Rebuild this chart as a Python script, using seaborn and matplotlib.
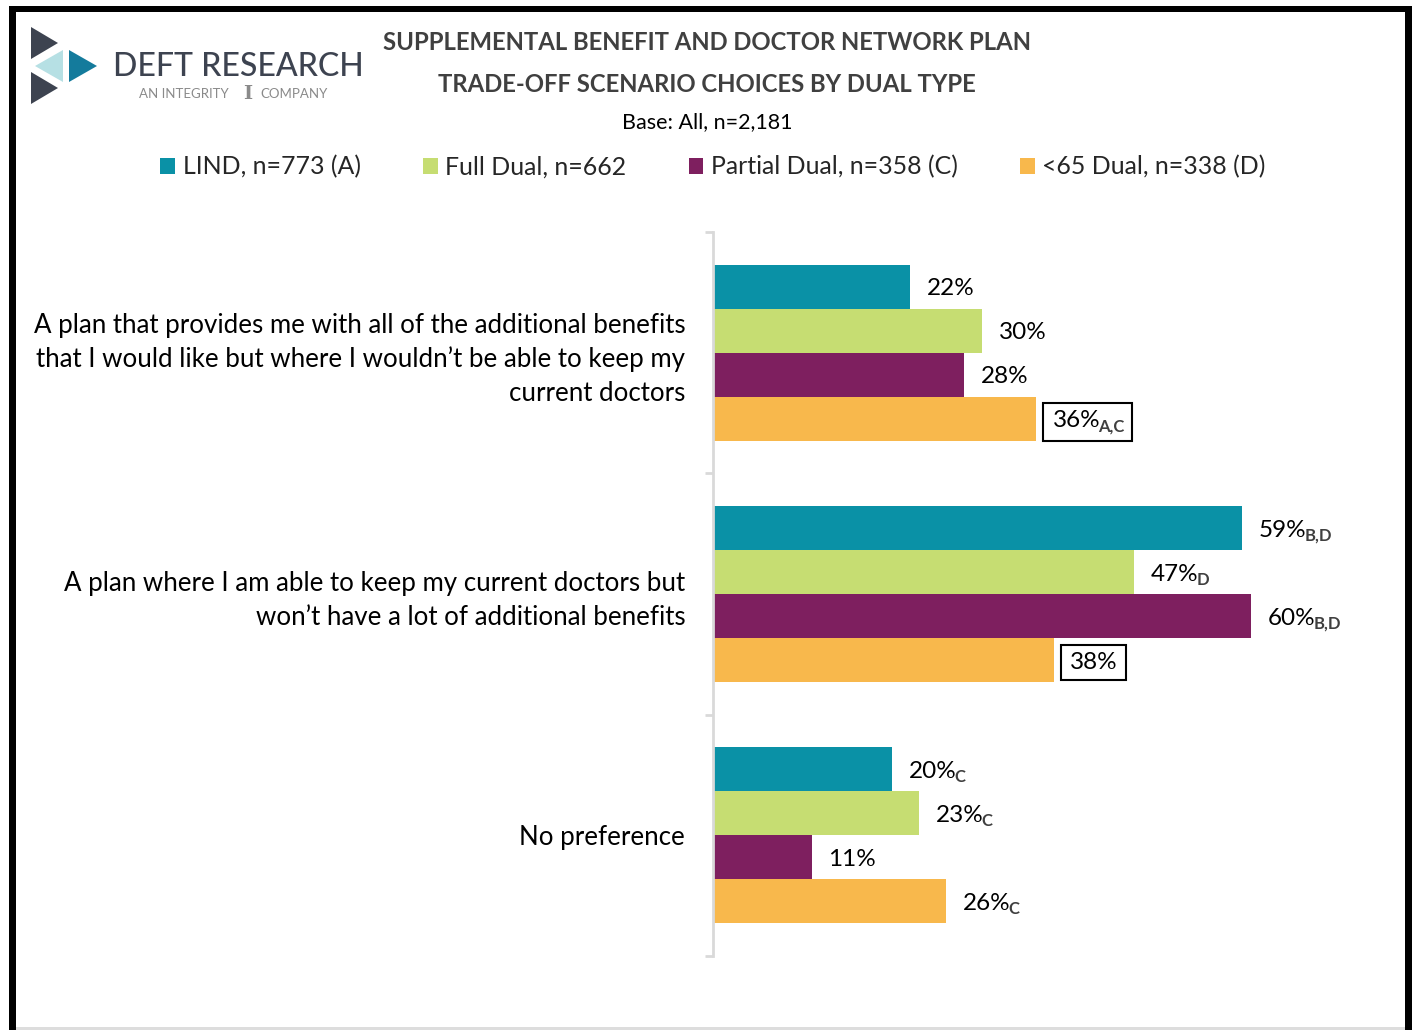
import matplotlib
matplotlib.use("Agg")
import matplotlib.pyplot as plt
from matplotlib.patches import Polygon, Rectangle
from matplotlib.transforms import Bbox, IdentityTransform
import seaborn as sns
import pandas as pd

# data
plans = [
    "A plan that provides me with all of the additional benefits\nthat I would like but where I wouldn\u2019t be able to keep my\ncurrent doctors",
    "A plan where I am able to keep my current doctors but\nwon\u2019t have a lot of additional benefits",
    "No preference",
]
groups = ["LIND, n=773 (A)", "Full Dual, n=662", "Partial Dual, n=358 (C)", "<65 Dual, n=338 (D)"]
lind = [22, 59, 20]
full_dual = [30, 47, 23]
partial_dual = [28, 60, 11]
under65_dual = [36, 38, 26]
sig_letters = [
    ["", "B,D", "C"],
    ["", "D", "C"],
    ["", "B,D", ""],
    ["A,C", "", "C"],
]
boxed = [
    [False, False, False],
    [False, False, False],
    [False, False, False],
    [True, True, False],
]
colors = ["#0a91a6", "#c6dd72", "#7e1f5f", "#f8b84c"]

rows = []
for g, vals in zip(groups, [lind, full_dual, partial_dual, under65_dual]):
    for p, v in zip(plans, vals):
        rows.append({"plan": p, "group": g, "pct": v})
df = pd.DataFrame(rows)

sns.set_style("white")
plt.rcParams["font.family"] = ["Lato", "DejaVu Sans"]

W, H = 1416, 1030
fig = plt.figure(figsize=(W / 100, H / 100), dpi=100)


def px(x, y):
    return (x / W, 1 - y / H)


ax = fig.add_axes([713 / W, 1 - 956 / H, (1390 - 713) / W, (956 - 232) / H])
sns.barplot(data=df, y="plan", x="pct", hue="group", orient="h", palette=colors,
            width=0.73, saturation=1, linewidth=0, ax=ax)
ax.set_xlim(0, 75.5)
ax.set_ylim(2.5, -0.5)
ax.set_xlabel("")
ax.set_ylabel("")
ax.xaxis.set_visible(False)
for s in ["top", "right", "bottom"]:
    ax.spines[s].set_visible(False)
ax.spines["left"].set_color("#d9d9d9")
ax.spines["left"].set_linewidth(2)
ax.set_yticks([0, 1, 2])
ax.set_yticklabels(plans, fontsize=18.6, linespacing=1.42)
ax.set_yticks([-0.5, 0.5, 1.5, 2.5], minor=True)
ax.tick_params(axis="y", which="major", left=False, length=0, pad=20, labelcolor="black")
ax.tick_params(axis="y", which="minor", left=True, length=6, width=2, color="#d9d9d9",
               direction="out")

# value labels with significance letters
to_box = []
for gi, cont in enumerate(ax.containers):
    for ci, bar in enumerate(cont):
        yc = bar.get_y() + bar.get_height() / 2
        t = ax.annotate(f"{bar.get_width():.0f}%", xy=(bar.get_width(), yc),
                        xytext=(12, -1.5), textcoords="offset points",
                        ha="left", va="center", fontsize=17.5, color="black")
        parts = [t]
        sub = sig_letters[gi][ci]
        if sub:
            s = ax.annotate(sub, xy=(1, 0.12), xycoords=t, xytext=(-1.5, -4),
                            textcoords="offset points", ha="left", va="bottom",
                            fontsize=12, fontweight="bold", color="#404040")
            parts.append(s)
        if boxed[gi][ci]:
            to_box.append(parts)

# legend
sns.move_legend(ax, "center", bbox_to_anchor=px(713, 167),
                bbox_transform=fig.transFigure, ncol=4, frameon=False, title=None,
                fontsize=17.9, handlelength=0.6, handleheight=0.6, handletextpad=0.3,
                columnspacing=2.5)

# titles
fig.text(*px(707, 42), "SUPPLEMENTAL BENEFIT AND DOCTOR NETWORK PLAN", ha="center", va="center",
         fontsize=17.2, fontweight="bold", color="#404040")
fig.text(*px(707, 84), "TRADE-OFF SCENARIO CHOICES BY DUAL TYPE", ha="center", va="center",
         fontsize=17.2, fontweight="bold", color="#404040")
fig.text(*px(707, 122), "Base: All, n=2,181", ha="center", va="center", fontsize=15.5, color="black")

# logo
dark = "#3d4350"
for pts, c in [
    ([(31, 27), (31, 59), (58, 43)], dark),
    ([(31, 72), (31, 104), (58, 88)], dark),
    ([(63, 50), (63, 82), (35, 66)], "#b6e0e4"),
    ([(69, 50), (69, 82), (97, 66)], "#147b9c"),
]:
    fig.add_artist(Polygon([px(x, y) for x, y in pts], closed=True, fc=c, ec="none",
                           transform=fig.transFigure))
fig.text(*px(113, 67), "DEFT RESEARCH", ha="left", va="center", fontsize=23, color=dark,
         fontweight="medium")
fig.text(*px(139, 94), "AN INTEGRITY", ha="left", va="center", fontsize=9.5, color="#8a8a8a")
fig.text(*px(248, 94), "I", ha="center", va="center", fontsize=14, fontweight="bold",
         family="DejaVu Serif", color="#8a8a8a")
fig.text(*px(260, 94), "COMPANY", ha="left", va="center", fontsize=9.5, color="#8a8a8a")

# frame around the slide
for (x0, y0, x1, y1), c in [
    ((9, 6, 1412, 12), "black"),
    ((9, 6, 16, 1030), "black"),
    ((1405, 6, 1412, 1030), "black"),
    ((16, 1027, 1405, 1030), "#dddddd"),
]:
    fig.add_artist(Rectangle(px(x0, y1), (x1 - x0) / W, (y1 - y0) / H, fc=c, ec="none",
                             transform=fig.transFigure))

# boxes around highlighted labels
fig.canvas.draw()
r = fig.canvas.get_renderer()
for parts in to_box:
    bb = Bbox.union([p.get_window_extent(r) for p in parts])
    fig.add_artist(Rectangle((bb.x0 - 9, bb.y0 - 7), bb.width + 17, bb.height + 14,
                             fc="none", ec="black", lw=1.5, transform=IdentityTransform()))

fig.savefig("out.png", dpi=100)
